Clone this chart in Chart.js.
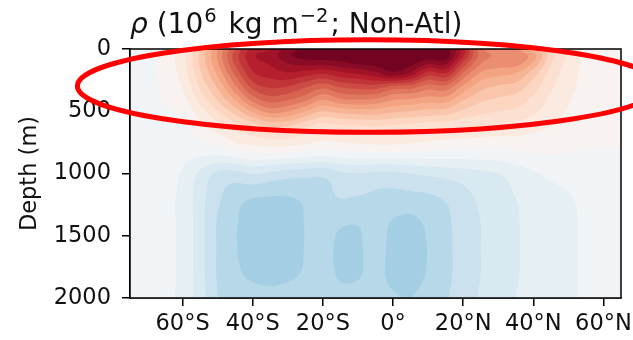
<!DOCTYPE html>
<html>
<head>
<meta charset="utf-8">
<script src="https://cdn.jsdelivr.net/npm/chart.js@4.4.1/dist/chart.umd.min.js"></script>
<style>
  html, body { margin: 0; padding: 0; background: #ffffff; }
  canvas { display: block; }
</style>
</head>
<body>
<canvas id="chart" width="633" height="340"></canvas>
<script>
// Zonal-mean density section (non-Atlantic basins), latitude vs depth.
const LATITUDES = [-75, -70, -65, -60, -55, -50, -45, -40, -35, -30, -25, -20, -15, -10, -5,
                   0, 5, 10, 15, 20, 25, 30, 35, 40, 45, 50, 55, 60, 65];
const DEPTHS = [0, 50, 100, 200, 300, 400, 500, 600, 700, 800, 1000, 1200, 1400, 1600, 1800, 2000];

// One depth profile per latitude (same order as LATITUDES / DEPTHS).
const RHO = [
  [-0.4, -0.4, -0.4, -0.4, -0.4, -0.4, -0.4, -0.4, -0.4, -0.4, -0.4, -0.4, -0.4, -0.4, -0.4, -0.4],
  [-0.3, -0.3, -0.3, -0.3, -0.3, -0.3, -0.4, -0.4, -0.4, -0.4, -0.5, -0.5, -0.5, -0.5, -0.5, -0.5],
  [0.5, 0.5, 0.5, 0.4, 0.3, 0.1, -0.2, -0.4, -0.5, -0.6, -0.7, -0.8, -0.8, -0.8, -0.8, -0.8],
  [1.5, 1.6, 1.6, 1.4, 1.1, 0.7, 0.3, -0.1, -0.4, -0.6, -1.1, -1.25, -1.25, -1.25, -1.25, -1.25],
  [4.0, 4.2, 4.2, 3.8, 3.2, 2.4, 1.5, 0.8, 0.2, -0.5, -2.2, -2.6, -2.6, -2.6, -2.6, -2.5],
  [7.0, 7.2, 7.0, 6.2, 5.2, 4.2, 3.0, 1.8, 0.8, -0.3, -3.2, -3.8, -4.1, -4.1, -4.1, -4.0],
  [10.0, 10.5, 10.3, 9.2, 7.8, 6.2, 4.5, 2.8, 1.5, 0.2, -3.3, -4.6, -4.9, -4.9, -4.8, -4.6],
  [12.5, 12.8, 12.6, 11.8, 10.4, 8.5, 6.2, 3.8, 2.0, 0.5, -2.9, -5.0, -5.6, -5.7, -5.2, -4.7],
  [13.0, 13.4, 13.2, 12.4, 11.2, 9.6, 7.4, 4.6, 2.4, 0.6, -3.2, -5.1, -5.8, -5.8, -5.3, -4.8],
  [14.5, 14.8, 14.2, 12.8, 11.0, 9.2, 7.0, 4.5, 2.4, 0.5, -3.5, -5.1, -5.7, -5.7, -5.2, -4.7],
  [15.2, 15.5, 14.6, 12.4, 10.2, 8.4, 6.0, 3.6, 1.8, 0.3, -3.6, -4.8, -4.95, -4.95, -4.9, -4.6],
  [15.6, 15.7, 14.6, 12.0, 9.4, 7.2, 5.0, 2.9, 1.4, 0.1, -3.7, -4.4, -4.6, -4.7, -4.6, -4.5],
  [15.8, 15.8, 15.0, 12.6, 10.2, 8.0, 5.4, 3.2, 1.6, 0.2, -3.2, -4.0, -4.9, -5.2, -5.15, -4.7],
  [15.9, 16.0, 15.4, 13.0, 10.5, 8.2, 5.6, 3.3, 1.7, 0.3, -3.0, -4.1, -4.95, -5.15, -5.1, -4.7],
  [15.9, 16.0, 15.6, 13.6, 10.6, 8.0, 5.6, 3.4, 1.8, 0.4, -3.2, -4.2, -4.6, -4.6, -4.7, -4.6],
  [15.9, 16.0, 15.8, 14.6, 9.8, 7.2, 5.2, 3.2, 1.8, 0.4, -3.2, -4.3, -5.1, -5.3, -5.3, -4.9],
  [15.9, 16.0, 15.6, 13.6, 9.6, 7.0, 5.0, 3.0, 1.6, 0.3, -3.0, -4.3, -5.3, -5.6, -5.5, -5.0],
  [15.7, 15.6, 14.5, 11.4, 8.6, 6.6, 4.7, 2.8, 1.4, 0.2, -2.8, -4.2, -4.8, -4.95, -4.9, -4.6],
  [15.5, 15.6, 14.6, 11.8, 8.8, 6.6, 4.6, 2.7, 1.3, 0.1, -2.6, -3.9, -4.2, -4.2, -4.2, -4.1],
  [12.5, 12.2, 11.0, 8.8, 6.8, 5.2, 3.8, 2.4, 1.2, 0.0, -2.4, -3.4, -3.6, -3.7, -3.7, -3.6],
  [8.4, 8.6, 8.2, 6.8, 5.4, 4.3, 3.3, 2.2, 1.1, 0.0, -2.2, -2.8, -3.0, -3.0, -3.0, -2.9],
  [7.6, 7.9, 7.6, 6.3, 4.9, 3.9, 3.0, 2.0, 1.0, 0.0, -2.0, -2.5, -2.6, -2.6, -2.6, -2.5],
  [7.2, 7.8, 7.6, 5.9, 4.6, 3.6, 2.8, 1.8, 1.0, 0.1, -1.5, -2.0, -2.1, -2.1, -2.1, -2.0],
  [5.4, 6.4, 6.0, 4.4, 3.5, 2.8, 2.2, 1.5, 0.8, 0.2, -1.1, -1.6, -1.7, -1.7, -1.7, -1.6],
  [3.4, 3.5, 3.2, 2.6, 2.2, 1.8, 1.5, 1.1, 0.6, 0.2, -0.8, -1.3, -1.4, -1.4, -1.4, -1.3],
  [1.8, 1.8, 1.7, 1.5, 1.3, 1.1, 0.9, 0.7, 0.4, 0.1, -0.6, -1.1, -1.2, -1.2, -1.2, -1.2],
  [0.8, 0.8, 0.8, 0.7, 0.7, 0.6, 0.5, 0.4, 0.2, 0.0, -0.4, -0.7, -0.8, -0.8, -0.8, -0.8],
  [0.5, 0.5, 0.5, 0.5, 0.4, 0.4, 0.3, 0.2, 0.1, 0.0, -0.3, -0.4, -0.4, -0.4, -0.4, -0.4],
  [0.4, 0.4, 0.4, 0.4, 0.3, 0.3, 0.3, 0.2, 0.1, 0.0, -0.3, -0.3, -0.3, -0.3, -0.3, -0.3]
];

const LAT_TICKS = [-60, -40, -20, 0, 20, 40, 60];
const DEPTH_TICKS = [0, 500, 1000, 1500, 2000];

// Filled-contour levels (symmetric about zero).
const LEVEL_MIN = -16;
const LEVEL_MAX = 16;
const LEVEL_STEP = 1;

// Highlight ring around the upper-ocean maximum (data coordinates).
const HIGHLIGHT = { lat: -7, depth: 297, halfLat: 83, halfDepth: 372 };

const FONT = '"DejaVu Sans", "Liberation Sans", sans-serif';
const INK = '#111111';

// RdBu reversed (ColorBrewer anchors).
const RDBU_R = ['#053061', '#2166ac', '#4393c3', '#92c5de', '#d1e5f0', '#f7f7f7',
                '#fddbc7', '#f4a582', '#d6604d', '#b2182b', '#67001f'];

function hexToRgb(h) {
  return [parseInt(h.slice(1, 3), 16), parseInt(h.slice(3, 5), 16), parseInt(h.slice(5, 7), 16)];
}
const RDBU_RGB = RDBU_R.map(hexToRgb);

function rdbuR(t) {
  t = Math.min(1, Math.max(0, t));
  const p = t * (RDBU_RGB.length - 1);
  const i = Math.min(RDBU_RGB.length - 2, Math.floor(p));
  const f = p - i;
  const a = RDBU_RGB[i], b = RDBU_RGB[i + 1];
  return [a[0] + (b[0] - a[0]) * f, a[1] + (b[1] - a[1]) * f, a[2] + (b[2] - a[2]) * f];
}

const N_BANDS = Math.round((LEVEL_MAX - LEVEL_MIN) / LEVEL_STEP);
const BAND_COLORS = [];
for (let k = 0; k < N_BANDS; k++) {
  const mid = LEVEL_MIN + (k + 0.5) * LEVEL_STEP;
  BAND_COLORS.push(rdbuR((mid - LEVEL_MIN) / (LEVEL_MAX - LEVEL_MIN)));
}

function bandColor(v) {
  let k = Math.floor((v - LEVEL_MIN) / LEVEL_STEP);
  if (k < 0) k = 0;
  if (k > N_BANDS - 1) k = N_BANDS - 1;
  return BAND_COLORS[k];
}

// Fractional grid index of a coordinate along an axis.
function gridIndex(arr, v) {
  const n = arr.length;
  if (v <= arr[0]) return 0;
  if (v >= arr[n - 1]) return n - 1;
  let i = 0;
  while (arr[i + 1] < v) i++;
  return i + (v - arr[i]) / (arr[i + 1] - arr[i]);
}

// Catmull-Rom weights for a fraction t.
function crWeights(t) {
  const t2 = t * t, t3 = t2 * t;
  return [
    -0.5 * t3 + t2 - 0.5 * t,
    1.5 * t3 - 2.5 * t2 + 1,
    -1.5 * t3 + 2 * t2 + 0.5 * t,
    0.5 * t3 - 0.5 * t2
  ];
}

function rhoAt(fi, fj) {
  const ni = LATITUDES.length, nj = DEPTHS.length;
  const i = Math.min(ni - 2, Math.floor(fi)), j = Math.min(nj - 2, Math.floor(fj));
  const wi = crWeights(fi - i), wj = crWeights(fj - j);
  let s = 0;
  for (let a = 0; a < 4; a++) {
    const ii = Math.min(ni - 1, Math.max(0, i - 1 + a));
    const row = RHO[ii];
    let col = 0;
    for (let b = 0; b < 4; b++) {
      const jj = Math.min(nj - 1, Math.max(0, j - 1 + b));
      col += wj[b] * row[jj];
    }
    s += wi[a] * col;
  }
  return s;
}

// Paints the filled contour field into the plot area using the chart's scales.
const contourFill = {
  id: 'contourFill',
  beforeDatasetsDraw(chart) {
    const { ctx, chartArea: area, scales: { x, y } } = chart;
    const left = Math.round(area.left), top = Math.round(area.top);
    const w = Math.round(area.right) - left, h = Math.round(area.bottom) - top;
    const SS = 3;
    const fis = [], fjs = [];
    for (let px = 0; px < w * SS; px++) fis.push(gridIndex(LATITUDES, x.getValueForPixel(left + (px + 0.5) / SS)));
    for (let py = 0; py < h * SS; py++) fjs.push(gridIndex(DEPTHS, y.getValueForPixel(top + (py + 0.5) / SS)));
    const img = ctx.createImageData(w, h);
    const n = SS * SS;
    for (let py = 0; py < h; py++) {
      for (let px = 0; px < w; px++) {
        let r = 0, g = 0, b = 0;
        for (let sy = 0; sy < SS; sy++) {
          const fj = fjs[py * SS + sy];
          for (let sx = 0; sx < SS; sx++) {
            const c = bandColor(rhoAt(fis[px * SS + sx], fj));
            r += c[0]; g += c[1]; b += c[2];
          }
        }
        const o = (py * w + px) * 4;
        img.data[o] = r / n; img.data[o + 1] = g / n; img.data[o + 2] = b / n; img.data[o + 3] = 255;
      }
    }
    ctx.putImageData(img, left, top);
  }
};

// Box around the axes.
const axesFrame = {
  id: 'axesFrame',
  afterDatasetsDraw(chart) {
    const { ctx, chartArea: a } = chart;
    ctx.save();
    ctx.strokeStyle = '#000000';
    ctx.lineWidth = 1.5;
    ctx.strokeRect(a.left, a.top, a.right - a.left, a.bottom - a.top);
    ctx.restore();
  }
};

// Title with italic rho and superscript exponents.
const TITLE_PARTS = [
  { text: 'ρ', italic: true },
  { text: ' (10' },
  { text: '6', sup: true, padBefore: 1 },
  { text: ' kg m', padBefore: 3 },
  { text: '−2', sup: true, padBefore: 1 },
  { text: '; Non-Atl)', padBefore: 2 }
];
const titleText = {
  id: 'titleText',
  afterDraw(chart) {
    const { ctx, chartArea: a } = chart;
    const base = 33, size = 28, supSize = 19.5, rise = 11.5;
    let xPos = a.left;
    ctx.save();
    ctx.fillStyle = INK;
    ctx.textBaseline = 'alphabetic';
    ctx.textAlign = 'left';
    for (const part of TITLE_PARTS) {
      xPos += part.padBefore || 0;
      const fs = part.sup ? supSize : size;
      ctx.font = (part.italic ? 'italic ' : '') + fs + 'px ' + FONT;
      ctx.fillText(part.text, xPos, part.sup ? base - rise : base);
      xPos += ctx.measureText(part.text).width;
    }
    ctx.restore();
  }
};

// Red ring drawn over the finished chart.
const highlightRing = {
  id: 'highlightRing',
  afterDraw(chart) {
    const { ctx, scales: { x, y } } = chart;
    const cx = x.getPixelForValue(HIGHLIGHT.lat);
    const cy = y.getPixelForValue(HIGHLIGHT.depth);
    const rx = Math.abs(x.getPixelForValue(HIGHLIGHT.lat + HIGHLIGHT.halfLat) - cx);
    const ry = Math.abs(y.getPixelForValue(HIGHLIGHT.depth + HIGHLIGHT.halfDepth) - cy);
    ctx.save();
    ctx.strokeStyle = '#ff0000';
    ctx.lineWidth = 5;
    ctx.beginPath();
    ctx.ellipse(cx, cy, rx, ry, 0, 0, Math.PI * 2);
    ctx.stroke();
    ctx.restore();
  }
};

function latLabel(v) {
  if (v === 0) return '0°';
  return Math.abs(v) + '°' + (v < 0 ? 'S' : 'N');
}

const tickFont = { family: FONT, size: 22.5 };

new Chart(document.getElementById('chart'), {
  type: 'scatter',
  data: { datasets: [] },
  options: {
    responsive: false,
    animation: false,
    events: [],
    layout: { padding: { top: 49, right: 12, left: 0, bottom: 0 } },
    plugins: {
      legend: { display: false },
      tooltip: { enabled: false },
      title: { display: false }
    },
    scales: {
      x: {
        type: 'linear',
        position: 'bottom',
        min: -75,
        max: 65,
        afterBuildTicks: (s) => { s.ticks = LAT_TICKS.map((v) => ({ value: v })); },
        afterFit: (s) => { s.height = 42; s.paddingLeft = 0; s.paddingRight = 0; },
        ticks: {
          callback: (v) => latLabel(v),
          font: tickFont,
          color: INK,
          padding: 5,
          maxRotation: 0,
          autoSkip: false
        },
        grid: { drawOnChartArea: false, drawTicks: true, tickLength: 8, color: '#000000', lineWidth: 1.5 },
        border: { display: true, color: '#000000', width: 1.5 }
      },
      y: {
        type: 'linear',
        position: 'left',
        reverse: true,
        min: 0,
        max: 2000,
        afterBuildTicks: (s) => { s.ticks = DEPTH_TICKS.map((v) => ({ value: v })); },
        afterFit: (s) => { s.width = 130; s.paddingTop = 0; s.paddingBottom = 0; },
        ticks: {
          callback: (v) => String(v),
          font: tickFont,
          color: INK,
          padding: 11,
          autoSkip: false
        },
        title: {
          display: true,
          text: 'Depth (m)',
          font: tickFont,
          color: INK,
          padding: { top: 17, bottom: 0 }
        },
        grid: { drawOnChartArea: false, drawTicks: true, tickLength: 8, color: '#000000', lineWidth: 1.5 },
        border: { display: true, color: '#000000', width: 1.5 }
      }
    }
  },
  plugins: [contourFill, axesFrame, titleText, highlightRing]
});
</script>
</body>
</html>
